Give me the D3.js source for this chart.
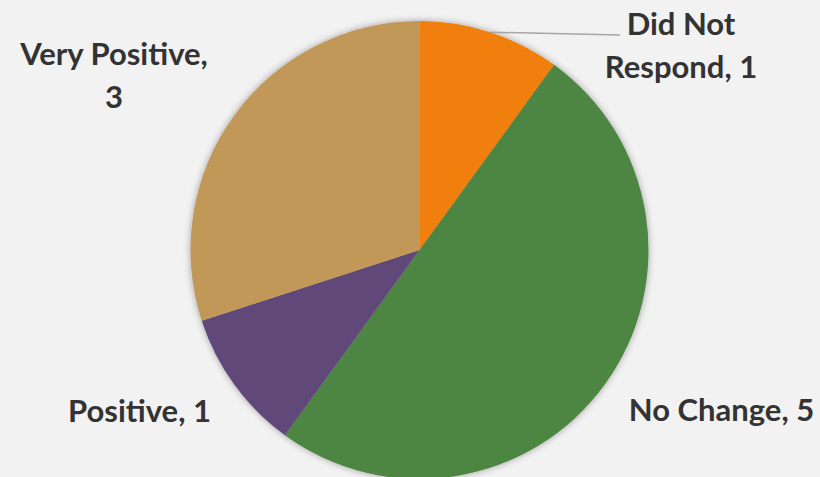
<!DOCTYPE html>
<html><head><meta charset="utf-8">
<script src="https://cdn.jsdelivr.net/npm/d3@7"></script>
<style>html,body{margin:0;padding:0;background:#f2f2f2;}</style>
</head><body>
<svg id="c" width="820" height="477"></svg>
<script>
const categories = ["Did Not Respond", "No Change", "Positive", "Very Positive"];
const values = [1, 5, 1, 3];
const colors = ["#F07F09", "#4E8542", "#604878", "#C19859"];
const labelLines = [["Did Not", "Respond, 1"], ["No Change, 5"], ["Positive, 1"], ["Very Positive,", "3"]];

const W = 820, H = 477, cx = 419.5, cy = 250, R = 229;
const svg = d3.select("#c");
svg.append("rect").attr("width", W).attr("height", H).attr("fill", "#f2f2f2");
const defs = svg.append("defs");
const f = defs.append("filter").attr("id", "sh").attr("x", "-20%").attr("y", "-20%").attr("width", "140%").attr("height", "140%");
f.append("feDropShadow").attr("dx", 0).attr("dy", 0).attr("stdDeviation", 3.5).attr("flood-color", "#000").attr("flood-opacity", 0.35);

const data = categories.map((c, i) => ({cat: c, value: values[i], color: colors[i], lines: labelLines[i]}));
const pie = d3.pie().value(d => d.value).sort(null);
const arc = d3.arc().innerRadius(0).outerRadius(R);
const arcs = pie(data);

const g = svg.append("g").attr("transform", `translate(${cx},${cy})`);
g.append("g").attr("filter", "url(#sh)")
  .selectAll("path").data(arcs).join("path")
  .attr("d", arc).attr("fill", d => d.data.color);

// leader line for Did Not Respond
const a0 = arcs[0];
const mid0 = (a0.startAngle + a0.endAngle) / 2;
const p0 = [Math.sin(mid0) * R, -Math.cos(mid0) * R];
svg.append("polyline")
  .attr("points", `${cx + p0[0]},${cy + p0[1]} 620,35`)
  .attr("fill", "none").attr("stroke", "#a6a6a6").attr("stroke-width", 1.5);

const labelPos = [[681, 35], [721.5, 421], [139.5, 422], [114, 65]];
const lh = 43;
arcs.forEach((a, i) => {
  const t = svg.append("text")
    .attr("x", labelPos[i][0]).attr("y", labelPos[i][1])
    .attr("text-anchor", "middle")
    .attr("font-family", "Lato, 'Open Sans', sans-serif")
    .attr("font-weight", 700).attr("font-size", 31)
    .attr("fill", "#333333");
  a.data.lines.forEach((ln, j) => {
    t.append("tspan").attr("x", labelPos[i][0]).attr("y", labelPos[i][1] + j * lh).text(ln);
  });
});
</script>
</body></html>
